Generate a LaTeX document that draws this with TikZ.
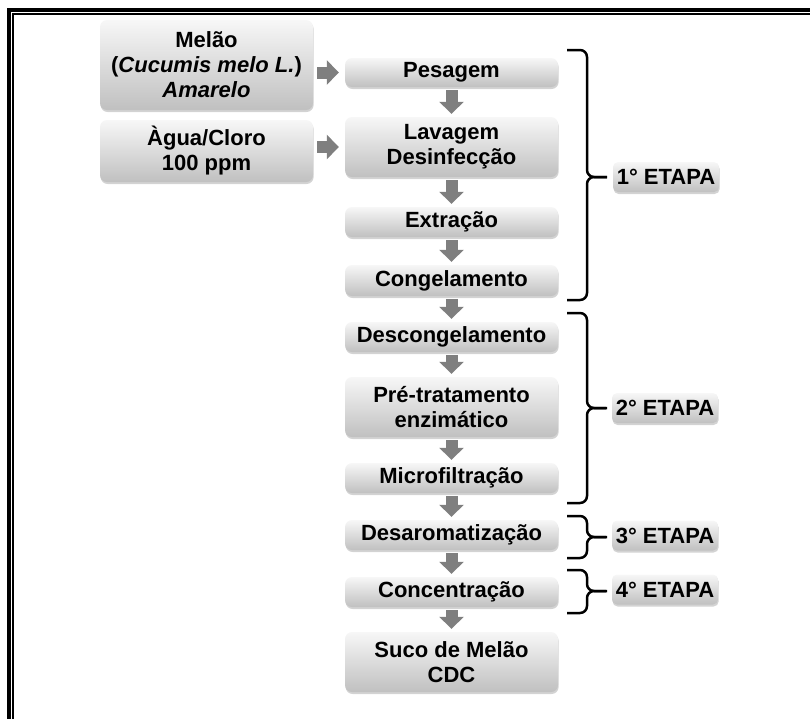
\documentclass[tikz,border=0pt]{standalone}
\usepackage{fontspec}
\setmainfont{Liberation Sans}
\usetikzlibrary{arrows.meta,shadows,calc}
\definecolor{arrgray}{HTML}{7F7F7F}
\definecolor{boxtop}{HTML}{F7F7F7}
\definecolor{boxbot}{HTML}{C0C0C0}
\begin{document}
\begin{tikzpicture}[x=1pt,y=-1pt,
  box/.style={rounded corners=7pt, top color=boxtop, bottom color=boxbot,
    minimum width=213pt, inner sep=0pt, align=center,
    font=\bfseries\fontsize{22}{25}\selectfont,
    drop shadow={shadow xshift=0.6pt, shadow yshift=-2pt, opacity=0.35}},
  etapa/.style={box, minimum width=106pt, minimum height=30pt, rounded corners=5pt},
  arr/.style={draw=arrgray, line width=12pt, -{Triangle[length=12pt,width=24pt]}},
  brc/.style={draw=black, line width=2.5pt, rounded corners=7pt}]
\useasboundingbox (0,0) rectangle (810,718);
% frame
\draw[line width=4pt] (9,720) -- (9,10) -- (812,10);
\draw[line width=2pt] (13,720) -- (13,14) -- (812,14);
% main column
\node[box, minimum height=29pt] (P) at (451.5,72.5) {Pesagem};
\node[box, minimum height=60pt] (L) at (451.5,147) {Lavagem\\Desinfecção};
\node[box, minimum height=30pt] (E) at (451.5,222) {Extração};
\node[box, minimum height=31pt] (C) at (451.5,280.5) {Congelamento};
\node[box, minimum height=30pt] (D) at (451.5,337) {Descongelamento};
\node[box, minimum height=60pt] (PT) at (451.5,407) {Pré-tratamento\\enzimático};
\node[box, minimum height=30pt] (MF) at (451.5,478) {Microfiltração};
\node[box, minimum height=30pt] (DA) at (451.5,535) {Desaromatização};
\node[box, minimum height=30pt] (CO) at (451.5,592) {Concentração};
\node[box, minimum height=60pt] (S) at (451.5,662) {Suco de Melão\\CDC};
% inputs
\node[box, minimum height=90pt] (M) at (206.5,65) {Melão\\(\textit{Cucumis melo L.})\\\textit{Amarelo}};
\node[box, minimum height=62pt] (A) at (206.5,151) {Àgua/Cloro\\100 ppm};
% etapas
\node[etapa] (E1) at (666,177) {1° ETAPA};
\node[etapa] (E2) at (665,408) {2° ETAPA};
\node[etapa] (E3) at (665,535.5) {3° ETAPA};
\node[etapa] (E4) at (665,589.5) {4° ETAPA};
% arrows
\draw[arr, shorten <=4pt, shorten >=6pt] (M.east |- P.west) -- (P.west);
\draw[arr, shorten <=4pt, shorten >=6pt] (A.east |- L.west) -- (L.west);
\foreach \a/\b in {P/L, L/E, E/C, C/D, D/PT, PT/MF, MF/DA, DA/CO, CO/S}
  \draw[arr, shorten <=3pt, shorten >=3pt] (\a.south) -- (\b.north);
% braces
\foreach \t/\b/\m/\n in {50/300/177/E1, 313/503/408/E2, 516/558/537/E3, 570/613/591/E4}{
  \draw[brc] (567,\t) -- (587,\t) -- (587,\m) -- (\n.west |- 0,\m) [shorten >=6pt];
  \draw[brc] (567,\b) -- (587,\b) -- (587,\m) -- (607,\m);
}
\end{tikzpicture}
\end{document}
